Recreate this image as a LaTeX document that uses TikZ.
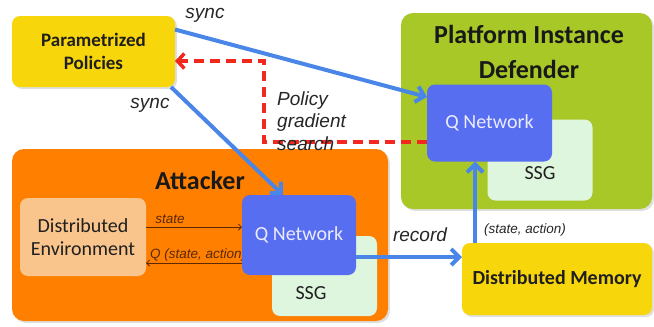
\documentclass[tikz,border=0pt]{standalone}
\usepackage{fontspec}
\setmainfont{Carlito}
\newfontfamily\arialfont{Liberation Sans}
\usetikzlibrary{arrows.meta,shadows}

\definecolor{polyellow}{RGB}{248,214,12}
\definecolor{attorange}{RGB}{255,128,0}
\definecolor{envpeach}{RGB}{249,197,140}
\definecolor{qblue}{RGB}{88,110,240}
\definecolor{ssggreen}{RGB}{222,246,222}
\definecolor{defgreen}{RGB}{168,200,40}
\definecolor{syncblue}{RGB}{74,134,232}
\definecolor{gradred}{RGB}{240,40,30}
\definecolor{thinbrown}{RGB}{90,40,5}

\tikzset{
  box/.style={rounded corners=8pt, inner sep=0pt, outer sep=0pt, align=center,
    text=black!88, font=\fontsize{20}{23}\selectfont},
  shadowed/.style={drop shadow={opacity=0.25, shadow xshift=2pt, shadow yshift=-2pt}},
  qnet/.style={box, fill=qblue, text=white!92!blue, minimum width=#1},
  ssgbox/.style={box, fill=ssggreen, minimum width=105pt},
  title/.style={align=center, text=black!90, font=\fontsize{26}{35}\selectfont\bfseries},
  lbl/.style={font=\arialfont\itshape\fontsize{19}{22.5}\selectfont, text=black!85, inner sep=0pt},
  small lbl/.style={lbl, font=\arialfont\itshape\fontsize{13.5}{15}\selectfont},
  sync/.style={draw=syncblue, line width=4pt, -{Straight Barb[length=8pt,width=16pt]}},
  grad/.style={draw=gradred, line width=3.5pt, dash pattern=on 10pt off 6pt,
    -{Straight Barb[length=7pt,width=15pt]}},
  thin arr/.style={draw=thinbrown, line width=0.8pt, -{Straight Barb[length=3pt,width=6pt]}},
}

\begin{document}
\begin{tikzpicture}[x=1pt, y=-1pt]
  \useasboundingbox (0,0) rectangle (654,327);

  % policies
  \node[box, shadowed, fill=polyellow, font=\fontsize{19}{23}\selectfont\bfseries,
    minimum width=163pt, minimum height=71pt] (pol) at (93.5,51.5) {Parametrized\\Policies};

  % attacker side
  \node[box, shadowed, fill=attorange, rounded corners=12pt,
    minimum width=376pt, minimum height=172pt] (att) at (200,235) {};
  \node[title] (atttitle) at (200,180) {Attacker};
  \node[box, fill=envpeach, minimum width=126pt, minimum height=78pt] (env) at (83,237) {Distributed\\Environment};
  \node[ssgbox, minimum height=80pt] (ssga) at (324.5,276) {};
  \node[small lbl, text=thinbrown, anchor=west] (qlbl) at (150,255) {Q (state, action)};
  \node[qnet=114pt, minimum height=80pt] (qa) at (299,235) {Q Network};

  % defender side
  \node[box, shadowed, fill=defgreen, rounded corners=12pt,
    minimum width=251pt, minimum height=196pt] (def) at (526.5,111) {};
  \node[title] (deftitle) at (529,52) {Platform Instance\\Defender};
  \node[ssgbox, minimum height=81pt] (ssgd) at (540,160) {};
  \node[qnet=125pt, minimum height=77pt] (qd) at (489.5,123) {Q Network};
  \foreach \n/\p in {ssgtxta/{(311,293)}, ssgtxtd/{(540,173)}}
    \node[box] (\n) at \p {SSG};

  % memory
  \node[box, shadowed, fill=polyellow, font=\fontsize{20}{23}\selectfont\bfseries,
    minimum width=190pt, minimum height=72pt] (mem) at (557,279) {Distributed Memory};

  % sync arrows
  \draw[sync] ([yshift=22pt]pol.east) -- ([yshift=26pt]qd.west);
  \draw[sync] ([xshift=-4pt]pol.south east) -- ([xshift=-16pt]qa.north);
  \node[lbl] (sync1) at (205,15) {sync};
  \node[lbl] (sync2) at (150,105) {sync};

  % policy gradient
  \coordinate (bend) at (264,61);
  \draw[grad] ([yshift=-19pt]qd.west) -| (bend) -- (pol.east |- bend);
  \node[lbl, anchor=west, align=left] (pgs) at (277,121) {Policy\\gradient\\search};

  % environment loop
  \draw[thin arr] ([yshift=10pt]env.east) -- ([yshift=10pt]env.east -| qa.west);
  \draw[thin arr] ([yshift=-26pt]env.east -| qa.west) -- ([yshift=-26pt]env.east);
  \node[small lbl, text=thinbrown] (statelbl) at (170,219) {state};

  % memory arrows
  \draw[sync] ([yshift=-22pt]qa.east) -- ([yshift=-22pt]qa.east -| mem.west);
  \draw[sync] ([xshift=-82pt]mem.north) -- ([xshift=-82pt]mem.north |- qd.south);
  \node[lbl] (reclbl) at (420,235) {record};
  \node[small lbl] (salbl) at (525,230) {(state, action)};
\end{tikzpicture}
\end{document}
